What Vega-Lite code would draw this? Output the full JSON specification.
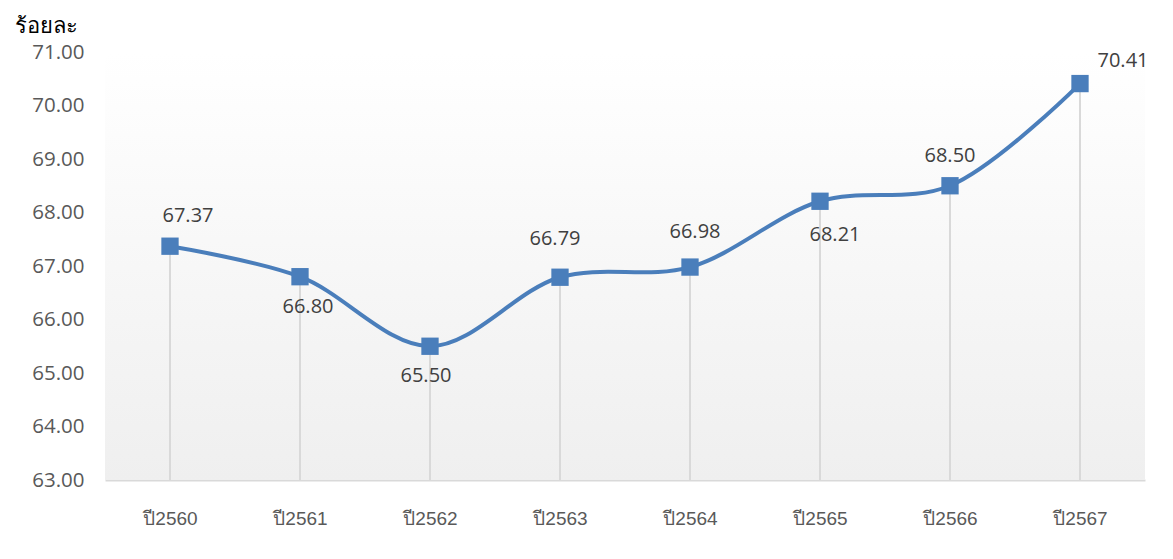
{
  "$schema": "https://vega.github.io/schema/vega-lite/v6.json",
  "width": 1040,
  "height": 428,
  "autosize": {"type": "none"},
  "padding": {"left": 105, "top": 52, "right": 28, "bottom": 79},
  "background": "#ffffff",
  "config": {
    "view": {"stroke": null},
    "font": "Open Sans, Noto Sans, sans-serif"
  },
  "data": {
    "values": [
      {"year": "ปี2560", "value": 67.37},
      {"year": "ปี2561", "value": 66.80},
      {"year": "ปี2562", "value": 65.50},
      {"year": "ปี2563", "value": 66.79},
      {"year": "ปี2564", "value": 66.98},
      {"year": "ปี2565", "value": 68.21},
      {"year": "ปี2566", "value": 68.50},
      {"year": "ปี2567", "value": 70.41}
    ]
  },
  "encoding": {
    "x": {
      "field": "year", "type": "ordinal", "sort": null,
      "scale": {"type": "point", "padding": 0.5},
      "axis": {
        "title": null, "labelAngle": 0, "ticks": false, "grid": false,
        "domainColor": "#d9d9d9", "domainWidth": 2,
        "labelFontSize": 19, "labelColor": "#595959", "labelPadding": 29,
        "labelFont": "Liberation Sans, Noto Sans, sans-serif"
      }
    },
    "y": {
      "field": "value", "type": "quantitative",
      "scale": {"domain": [63, 71], "nice": false, "zero": false},
      "axis": {
        "title": "ร้อยละ", "titleAngle": 0, "titleX": -91, "titleY": -20,
        "titleAlign": "left", "titleBaseline": "alphabetic",
        "titleFontSize": 22, "titleFontWeight": "normal", "titleColor": "#000000",
        "values": [63, 64, 65, 66, 67, 68, 69, 70, 71],
        "format": ".2f", "domain": false, "ticks": false, "grid": false,
        "labelFontSize": 20.5, "labelColor": "#595959", "labelPadding": 21
      }
    }
  },
  "layer": [
    {
      "mark": {
        "type": "rect",
        "color": {
          "gradient": "linear", "x1": 0, "y1": 0, "x2": 0, "y2": 1,
          "stops": [
            {"offset": 0, "color": "#ffffff"},
            {"offset": 0.13, "color": "#fdfdfd"},
            {"offset": 1, "color": "#efefef"}
          ]
        }
      },
      "encoding": {
        "x": null,
        "y": {"datum": 71, "type": "quantitative"},
        "y2": {"datum": 63}
      }
    },
    {
      "mark": {"type": "rule", "color": "#d9d9d9", "strokeWidth": 2},
      "encoding": {"y2": {"datum": 63}}
    },
    {
      "mark": {"type": "line", "color": "#4a7ebb", "strokeWidth": 4, "interpolate": "catmull-rom"}
    },
    {
      "mark": {"type": "point", "shape": "square", "filled": true, "color": "#4a7ebb", "opacity": 1, "size": 300}
    },
    {
      "transform": [{"filter": "datum.year == 'ปี2560'"}],
      "mark": {"type": "text", "fontSize": 20, "color": "#404040", "dx": 18, "dy": -30},
      "encoding": {"text": {"field": "value", "format": ".2f"}}
    },
    {
      "transform": [{"filter": "datum.year == 'ปี2561'"}],
      "mark": {"type": "text", "fontSize": 20, "color": "#404040", "dx": 8, "dy": 30},
      "encoding": {"text": {"field": "value", "format": ".2f"}}
    },
    {
      "transform": [{"filter": "datum.year == 'ปี2562'"}],
      "mark": {"type": "text", "fontSize": 20, "color": "#404040", "dx": -4, "dy": 30},
      "encoding": {"text": {"field": "value", "format": ".2f"}}
    },
    {
      "transform": [{"filter": "datum.year == 'ปี2563'"}],
      "mark": {"type": "text", "fontSize": 20, "color": "#404040", "dx": -5, "dy": -38},
      "encoding": {"text": {"field": "value", "format": ".2f"}}
    },
    {
      "transform": [{"filter": "datum.year == 'ปี2564'"}],
      "mark": {"type": "text", "fontSize": 20, "color": "#404040", "dx": 5, "dy": -35},
      "encoding": {"text": {"field": "value", "format": ".2f"}}
    },
    {
      "transform": [{"filter": "datum.year == 'ปี2565'"}],
      "mark": {"type": "text", "fontSize": 20, "color": "#404040", "dx": 15, "dy": 34},
      "encoding": {"text": {"field": "value", "format": ".2f"}}
    },
    {
      "transform": [{"filter": "datum.year == 'ปี2566'"}],
      "mark": {"type": "text", "fontSize": 20, "color": "#404040", "dx": 0, "dy": -30},
      "encoding": {"text": {"field": "value", "format": ".2f"}}
    },
    {
      "transform": [{"filter": "datum.year == 'ปี2567'"}],
      "mark": {"type": "text", "fontSize": 20, "color": "#404040", "dx": 43, "dy": -23},
      "encoding": {"text": {"field": "value", "format": ".2f"}}
    }
  ]
}
